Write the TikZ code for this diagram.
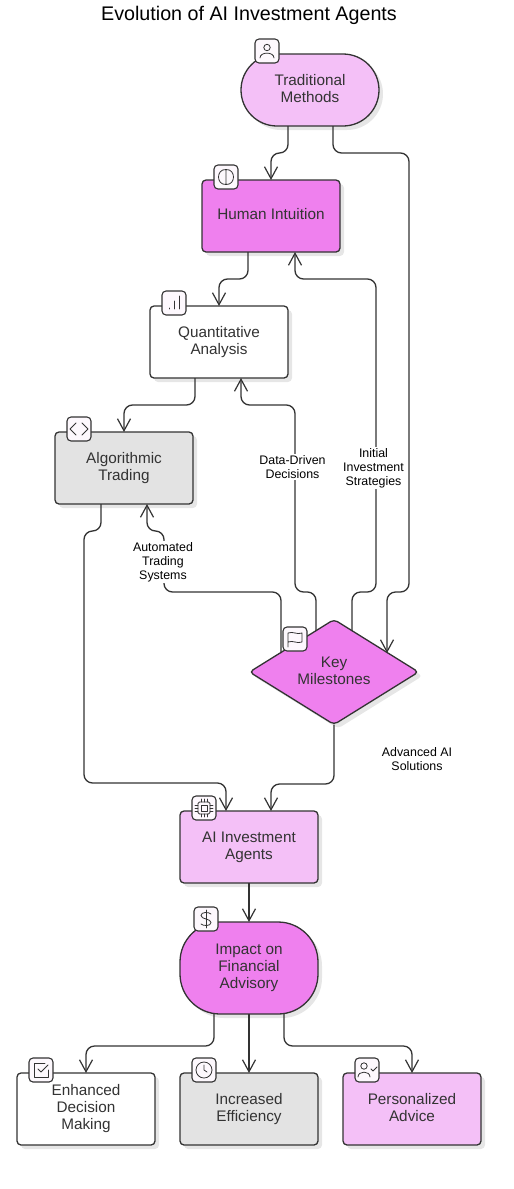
\documentclass[tikz,border=0pt]{standalone}
\usepackage{fontspec}
\setmainfont{Liberation Sans}
\usetikzlibrary{arrows.meta,shapes.geometric,shadows}
\definecolor{ink}{HTML}{333333}
\definecolor{pinklt}{HTML}{F4C0F7}
\definecolor{pinkdk}{HTML}{EF80EE}
\definecolor{graylt}{HTML}{E3E3E3}
\definecolor{iconbg}{HTML}{FDF8FD}
\definecolor{shade}{HTML}{E6E6E6}
\tikzset{
  boxbase/.style={draw=ink,line width=1.3pt,inner sep=0pt,outer sep=0pt,text=ink,align=center,
    font=\fontsize{15.3}{17}\selectfont,text depth=3.3pt,
    drop shadow={shadow xshift=4pt,shadow yshift=-4pt,fill=shade,opacity=1}},
  rectbox/.style={boxbase,rectangle,rounded corners=4pt,minimum width=138pt,minimum height=72pt},
  pillbox/.style={boxbase,rectangle,rounded corners=36pt,minimum width=138pt,minimum height=72pt},
  blobbox/.style={boxbase,rectangle,rounded corners=40pt,minimum width=138pt,minimum height=92pt},
  keybox/.style={boxbase,diamond,rounded corners=4pt,aspect=1.6,minimum width=169pt,minimum height=105pt},
  edge/.style={draw=ink,line width=1.3pt,rounded corners=8.5pt,-{Straight Barb[length=12pt,width=13pt,line width=1.2pt]}},
  lbl/.style={fill=white,inner sep=1pt,align=center,text=black,font=\fontsize{12.4}{14}\selectfont},
  iconbox/.style={draw=ink,line width=1.1pt,fill=iconbg,rounded corners=4pt,minimum size=24pt,inner sep=0pt,outer sep=0pt},
  glyph/.style={draw=ink,line width=0.8pt,line cap=round,line join=round},
  usericon/.pic={\draw[glyph] (0,-3.5) circle[radius=3.2];
    \draw[glyph] (-7,7) .. controls (-7,0.5) and (7,0.5) .. (7,7);},
  brainicon/.pic={\draw[glyph] (0,-7.5) .. controls (-10,-8) and (-10,8) .. (0,7.5) .. controls (10,8) and (10,-8) .. (0,-7.5) -- (0,7.5);},
  barsicon/.pic={\draw[glyph] (-5,5) -- (-5,6); \draw[glyph] (0,-2) -- (0,6); \draw[glyph] (5,-7) -- (5,6);},
  codeicon/.pic={\draw[glyph] (-3,-6) -- (-9,0) -- (-3,6); \draw[glyph] (3,-6) -- (9,0) -- (3,6);},
  flagicon/.pic={\draw[glyph] (-7,8) -- (-7,-6) .. controls (-2,-8) and (2,-4) .. (7,-6) -- (7,3) .. controls (2,5) and (-2,1) .. (-7,3);},
  chipicon/.pic={\draw[glyph,rounded corners=1.5pt] (-6,-6) rectangle (6,6); \draw[glyph] (-3,-3) rectangle (3,3);
    \foreach \u in {-3,0,3}{\draw[glyph] (\u,-9) -- (\u,-6); \draw[glyph] (\u,6) -- (\u,9);
      \draw[glyph] (-9,\u) -- (-6,\u); \draw[glyph] (6,\u) -- (9,\u);}},
  dollaricon/.pic={\draw[glyph] (0,-9) -- (0,9);
    \draw[glyph] (5,-5) .. controls (3,-7) and (-5,-7.5) .. (-5,-3.5) .. controls (-5,0.5) and (5,-0.5) .. (5,3.5) .. controls (5,7.5) and (-3,7) .. (-5,5);},
  checkicon/.pic={\draw[glyph] (4,-7) -- (-7,-7) -- (-7,7) -- (7,7) -- (7,0); \draw[glyph] (-3,-1) -- (0,2) -- (7,-5);},
  clockicon/.pic={\draw[glyph] (0,0) circle[radius=8]; \draw[glyph] (0,-5) -- (0,0) -- (3,2);},
  usercheckicon/.pic={\draw[glyph] (-3,-4) circle[radius=3.2];
    \draw[glyph] (-9,7) .. controls (-9,0.5) and (3,0.5) .. (3,7); \draw[glyph] (4,-1) -- (6,1) -- (10,-3);},
}
\begin{document}
\begin{tikzpicture}[x=1pt,y=-1pt]
\useasboundingbox (0,0) rectangle (514,1189);
\node[font=\fontsize{19.7}{22}\selectfont,text=black,inner sep=0pt] (title) at (249,15.5) {Evolution of AI Investment Agents};
% nodes
\node[pillbox,fill=pinklt] (trad) at (310,90) {Traditional\\Methods};
\node[rectbox,fill=pinkdk] (human) at (271,216) {Human Intuition};
\node[rectbox,fill=white] (quant) at (219,342) {Quantitative\\Analysis};
\node[rectbox,fill=graylt] (algo) at (124,468) {Algorithmic\\Trading};
\node[keybox,fill=pinkdk] (key) at (334,672) {Key\\Milestones};
\node[rectbox,fill=pinklt] (agents) at (249,847) {AI Investment\\Agents};
\node[blobbox,fill=pinkdk] (impact) at (249,968) {Impact on\\Financial\\Advisory};
\node[rectbox,fill=white] (enh) at (86,1109) {Enhanced\\Decision\\Making};
\node[rectbox,fill=graylt] (eff) at (249,1109) {Increased\\Efficiency};
\node[rectbox,fill=pinklt] (pers) at (412,1109) {Personalized\\Advice};
% connectors
\draw[edge] ([xshift=-22pt]trad.south) -- ++(0,27) -| (human.north);
\draw[edge] ([xshift=23pt]trad.south) -- ++(0,27) -- ++(76,0) -- ++(0,439) -- ++(-22,0) -- ([xshift=53pt,yshift=-33.5pt]key.north);
\draw[edge] ([xshift=-23pt]human.south) -- ++(0,27) -| (quant.north);
\draw[edge] ([xshift=-24pt]quant.south) -- ++(0,27) -| (algo.north);
\draw[edge] ([xshift=18pt,yshift=-11.5pt]key.north) -- ++(0,-39) -- ++(24,0) -- ++(0,-313) -- ++(-81,0) -- ([xshift=24pt]human.south);
\draw[edge] ([xshift=-18pt,yshift=-11.5pt]key.north) -- ++(0,-39) -- ++(-21,0) -- ++(0,-187) -- ++(-54,0) -- ([xshift=22pt]quant.south);
\draw[edge] ([xshift=-53pt,yshift=-33.5pt]key.north) -- ++(0,-61) -- ++(-117,0) -- ++(0,-61) -- ++(-17,0) -- ([xshift=23pt]algo.south);
\draw[edge] ([xshift=-23pt]algo.south) -- ++(0,27) -- ++(-17,0) -- ++(0,252) -- ++(142,0) -- ([xshift=-23pt]agents.north);
\draw[edge] (key.south) -- ++(0,59.5) -- ++(-63,0) -- ([xshift=22pt]agents.north);
\draw[edge] (agents.south) -- (impact.north);
\draw[edge] ([xshift=-35pt]impact.south) -- ++(0,32) -| (enh.north);
\draw[edge] (impact.south) -- (eff.north);
\draw[edge] ([xshift=35pt]impact.south) -- ++(0,32) -| (pers.north);
% labels
\node[lbl] (lblinit) at (373.5,468) {Initial\\Investment\\Strategies};
\node[lbl] (lbldata) at (292.5,467) {Data-Driven\\Decisions};
\node[lbl] (lblauto) at (163,562) {Automated\\Trading\\Systems};
\node[lbl] (lbladv) at (417,759) {Advanced AI\\Solutions};
% icons
\node[iconbox] (itrad) at (267,51) {}; \pic at (itrad) {usericon};
\node[iconbox] (ihuman) at (226,177) {}; \pic at (ihuman) {brainicon};
\node[iconbox] (iquant) at (174,303) {}; \pic at (iquant) {barsicon};
\node[iconbox] (ialgo) at (79,429) {}; \pic at (ialgo) {codeicon};
\node[iconbox] (ikey) at (295,639) {}; \pic at (ikey) {flagicon};
\node[iconbox] (iagents) at (204,808) {}; \pic at (iagents) {chipicon};
\node[iconbox] (iimpact) at (206,919) {}; \pic at (iimpact) {dollaricon};
\node[iconbox] (ienh) at (41,1070) {}; \pic at (ienh) {checkicon};
\node[iconbox] (ieff) at (204,1070) {}; \pic at (ieff) {clockicon};
\node[iconbox] (ipers) at (367,1070) {}; \pic at (ipers) {usercheckicon};
\end{tikzpicture}
\end{document}
